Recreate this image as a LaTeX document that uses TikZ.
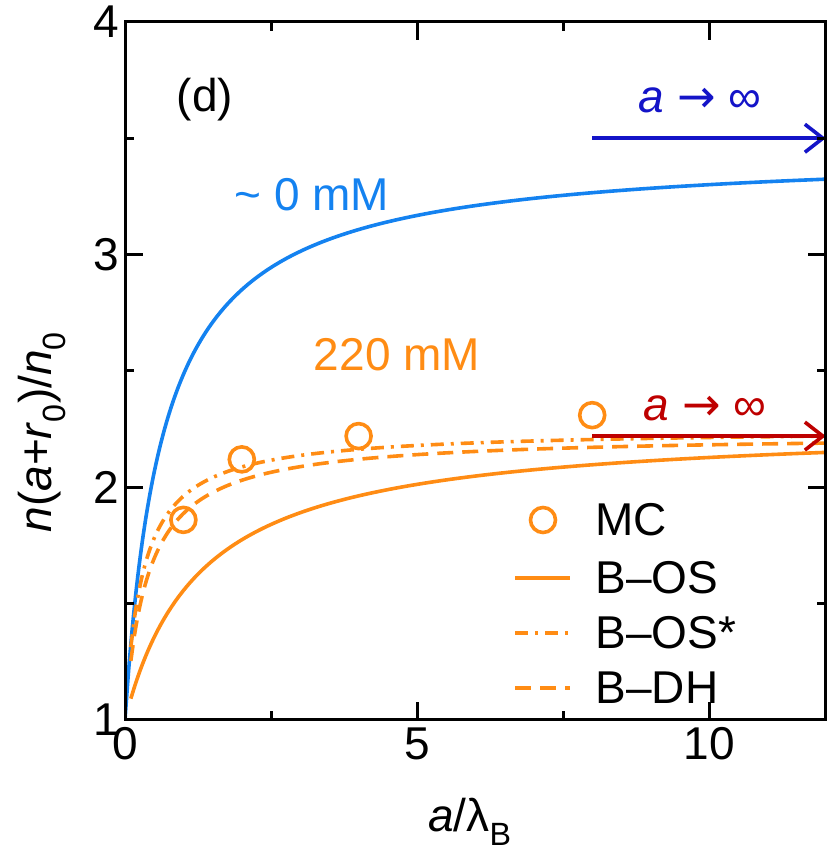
\documentclass[tikz,border=0pt]{standalone}
\usepackage{fontspec}
\usetikzlibrary{arrows.meta}
\setmainfont{Liberation Sans}
\newfontfamily\symf{DejaVu Sans}
\definecolor{cblue}{RGB}{20,130,240}
\definecolor{corange}{RGB}{255,140,20}
\definecolor{dblue}{RGB}{20,20,200}
\definecolor{dred}{RGB}{190,0,0}
\begin{document}
\begin{tikzpicture}[x=1pt,y=1pt,
  lab/.style={font=\fontsize{46}{48}\selectfont},
  crv/.style={line width=3.6pt},
  mc/.style={draw=corange,line width=3.6pt,circle,minimum size=25pt,inner sep=0pt}]
\useasboundingbox (0,0) rectangle (830,862);
\begin{scope}[shift={(125,142)},x=58.4pt,y=232.7pt]
\clip (0,0) rectangle (12,3);
\draw[crv,cblue,domain=0:12,samples=200,smooth] plot (\x,{2.45*\x/(0.65+\x)});
\draw[crv,corange,domain=0.1:12,samples=200,smooth] plot (\x,{1.2735*\x/(1.289+\x)});
\draw[crv,corange,dash pattern=on 16pt off 9pt,domain=0.1:12,samples=200,smooth] plot (\x,{1.228*\x/(0.384+\x)});
\draw[crv,corange,dash pattern=on 13pt off 7pt on 3pt off 7pt,domain=0.1:12,samples=200,smooth] plot (\x,{1.2505*\x/(0.3+\x)});
\end{scope}
\begin{scope}[shift={(125,142)},x=58.4pt,y=232.7pt]
\node[mc] (c1) at (1,0.86) {};
\node[mc] (c2) at (2,1.12) {};
\node[mc] (c3) at (4,1.22) {};
\node[mc] (c4) at (8,1.31) {};
\coordinate (ba) at (8,2.5); \coordinate (bb) at (12,2.5);
\coordinate (ra) at (8,1.22); \coordinate (rb) at (12,1.22);
\draw[line width=3.6pt,dblue,-{Straight Barb[length=18pt,width=28pt]}] (ba) -- (bb);
\draw[line width=3.6pt,dred,-{Straight Barb[length=18pt,width=28pt]}] (ra) -- (rb);
\draw[line width=3pt] (0,0) rectangle (12,3);
\foreach \t in {0,5,10}{\draw[line width=3pt] (\t,0) -- ++(0,18pt); \draw[line width=3pt] (\t,3) -- ++(0,-18pt);}
\foreach \t in {2.5,7.5}{\draw[line width=3pt] (\t,0) -- ++(0,9pt); \draw[line width=3pt] (\t,3) -- ++(0,-9pt);}
\foreach \t in {0,1,2,3}{\draw[line width=3pt] (0,\t) -- ++(18pt,0); \draw[line width=3pt] (12,\t) -- ++(-18pt,0);}
\foreach \t in {0.5,1.5,2.5}{\draw[line width=3pt] (0,\t) -- ++(9pt,0); \draw[line width=3pt] (12,\t) -- ++(-9pt,0);}
\foreach \t in {0,5,10}{\node[lab,below] (xl\t) at (\t,-4pt) {\t};}
\foreach \t/\v in {0/1,1/2,2/3,3/4}{\node[lab,left] (yl\t) at (-2pt,\t) {\v};}
\end{scope}
\node[lab] (xlabel) at (470,40) {\textit{a}/λ\textsubscript{B}};
\node[lab,rotate=90] (ylabel) at (42,430) {\textit{n}(\textit{a}+\textit{r}\textsubscript{0})/\textit{n}\textsubscript{0}};
\node[lab] (d) at (205,762) {(d)};
\node[lab,text=cblue] (b0) at (312,667) {\~{} 0 mM};
\node[lab,text=corange] (o220) at (397,507) {220 mM};
\node[lab,text=dblue] (abl) at (700,762) {\textit{a} {\symf→} ∞};
\node[lab,text=dred] (are) at (705,454) {\textit{a} {\symf→} ∞};
\node[mc] (lmc) at (543,342) {};
\node[lab,anchor=west] (tmc) at (592,342) {MC};
\coordinate (l1a) at (515,284); \coordinate (l1b) at (570,284);
\draw[crv,corange] (l1a) -- (l1b);
\node[lab,anchor=west] (t1) at (592,284) {B–OS};
\coordinate (l2a) at (515,229); \coordinate (l2b) at (570,229);
\draw[crv,corange,dash pattern=on 13pt off 7pt on 3pt off 7pt] (l2a) -- (l2b);
\node[lab,anchor=west] (t2) at (592,229) {B–OS*};
\coordinate (l3a) at (515,174); \coordinate (l3b) at (570,174);
\draw[crv,corange,dash pattern=on 16pt off 9pt] (l3a) -- (l3b);
\node[lab,anchor=west] (t3) at (592,174) {B–DH};
\end{tikzpicture}
\end{document}
